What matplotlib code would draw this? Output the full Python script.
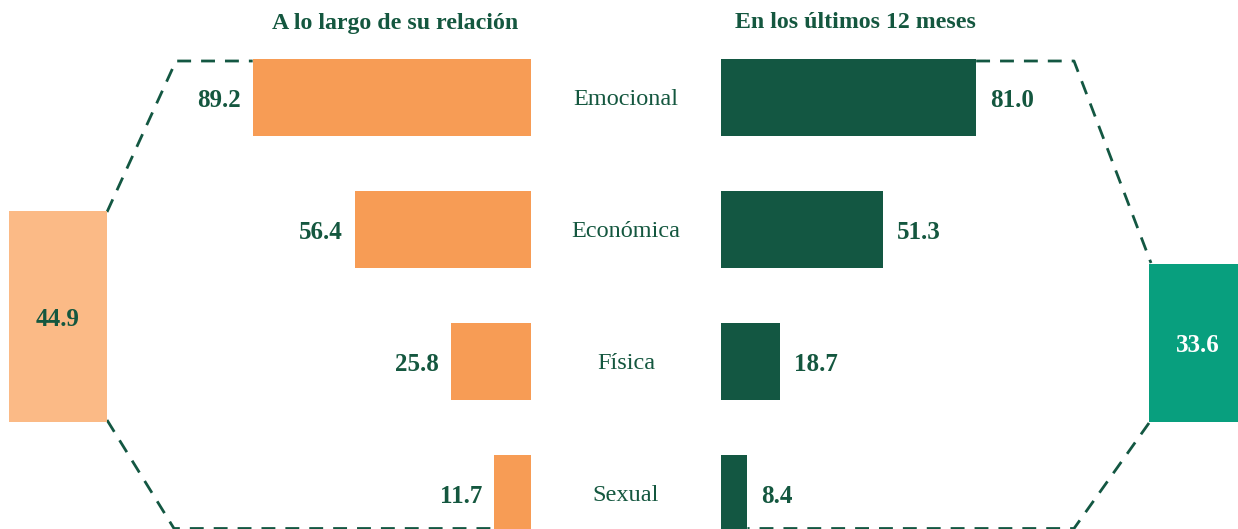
import matplotlib
matplotlib.use("Agg")
import matplotlib.pyplot as plt

# data
categories = ["Emocional", "Económica", "Física", "Sexual"]
lifetime = [89.2, 56.4, 25.8, 11.7]
last_12m = [81.0, 51.3, 18.7, 8.4]
total_lifetime = 44.9
total_12m = 33.6
titles = ["A lo largo de su relación", "En los últimos 12 meses"]

ORANGE = "#F79C55"
ORANGE_LIGHT = "#FBBA86"
GREEN = "#135742"
TEAL = "#089F7E"
TXT = "#14573F"
FONT = ["Liberation Serif", "DejaVu Serif"]
plt.rcParams["font.family"] = FONT

W, H = 1238, 529
fig = plt.figure(figsize=(W / 100, H / 100), dpi=100)
fig.patch.set_facecolor("white")


def px_axes(x0, x1, y0=0, y1=H):
    # axes placed by pixel box (y measured from the top)
    return fig.add_axes([x0 / W, (H - y1) / H, (x1 - x0) / W, (y1 - y0) / H])


ROW0, ROWSTEP = 97.5, 132.0
ylim = ((H - ROW0) / ROWSTEP, -ROW0 / ROWSTEP)
ypos = list(range(len(categories)))
BAR_H = 77 / ROWSTEP

# left bars: 3.12 px per unit, anchored at x=531
axL = px_axes(531 - 312, 531)
axL.barh(ypos, lifetime, height=BAR_H, color=ORANGE)
axL.set_xlim(100, 0)
axL.set_ylim(*ylim)
axL.axis("off")
for y, v in zip(ypos, lifetime):
    axL.annotate(f"{v:.1f}", (v, y), xytext=(-12, -3), textcoords="offset pixels",
                 ha="right", va="center", fontsize=18, fontweight="bold", color=TXT)

# right bars: 3.15 px per unit, anchored at x=721
axR = px_axes(721, 721 + 315)
axR.barh(ypos, last_12m, height=BAR_H, color=GREEN)
axR.set_xlim(0, 100)
axR.set_ylim(*ylim)
axR.axis("off")
for y, v in zip(ypos, last_12m):
    axR.annotate(f"{v:.1f}", (v, y), xytext=(14, -3), textcoords="offset pixels",
                 ha="left", va="center", fontsize=18, fontweight="bold", color=TXT)

# category labels in the gap
for y, c in zip(ypos, categories):
    axR.annotate(c, (0, y), xytext=(-95, -2), textcoords="offset pixels",
                 ha="center", va="center", fontsize=17.5, color=TXT)

# summary boxes, height proportional to value, bottoms aligned
axS = px_axes(0, W, 0, 421.5)
axS.bar([58, 1198], [total_lifetime, total_12m], width=98,
        color=[ORANGE_LIGHT, TEAL])
axS.set_xlim(0, W)
axS.set_ylim(0, 421.5 / 4.69)
axS.axis("off")
axS.annotate(f"{total_lifetime:.1f}", (58, total_lifetime / 2), xytext=(0, -3),
             textcoords="offset pixels", ha="center", va="center",
             fontsize=18, fontweight="bold", color=TXT)
axS.annotate(f"{total_12m:.1f}", (1198, total_12m / 2), xytext=(0, -3),
             textcoords="offset pixels", ha="center", va="center",
             fontsize=18, fontweight="bold", color="white")

# dashed connectors
ov = fig.add_axes([0, 0, 1, 1], zorder=-1)
ov.set_xlim(0, W)
ov.set_ylim(H, 0)
ov.axis("off")
dash = dict(color=GREEN, lw=2.0, ls=(0, (5, 3.6)))
ov.plot([107, 176, 531 - lifetime[0] * 3.12], [212, 61, 61], **dash)
ov.plot([107, 174, 531 - lifetime[-1] * 3.12], [420, 528.5, 528.5], **dash)
ov.plot([721 + last_12m[0] * 3.15, 1074, 1151], [61, 61, 263], **dash)
ov.plot([1149, 1074, 721 + last_12m[-1] * 3.15], [423, 528.5, 528.5], **dash)

# column titles
fig.text(395 / W, 1 - 23 / H, titles[0], ha="center", va="center",
         fontsize=17.2, fontweight="bold", color=TXT)
fig.text(855 / W, 1 - 23 / H, titles[1], ha="center", va="center",
         fontsize=17.2, fontweight="bold", color=TXT)

fig.savefig("out.png", dpi=100)
